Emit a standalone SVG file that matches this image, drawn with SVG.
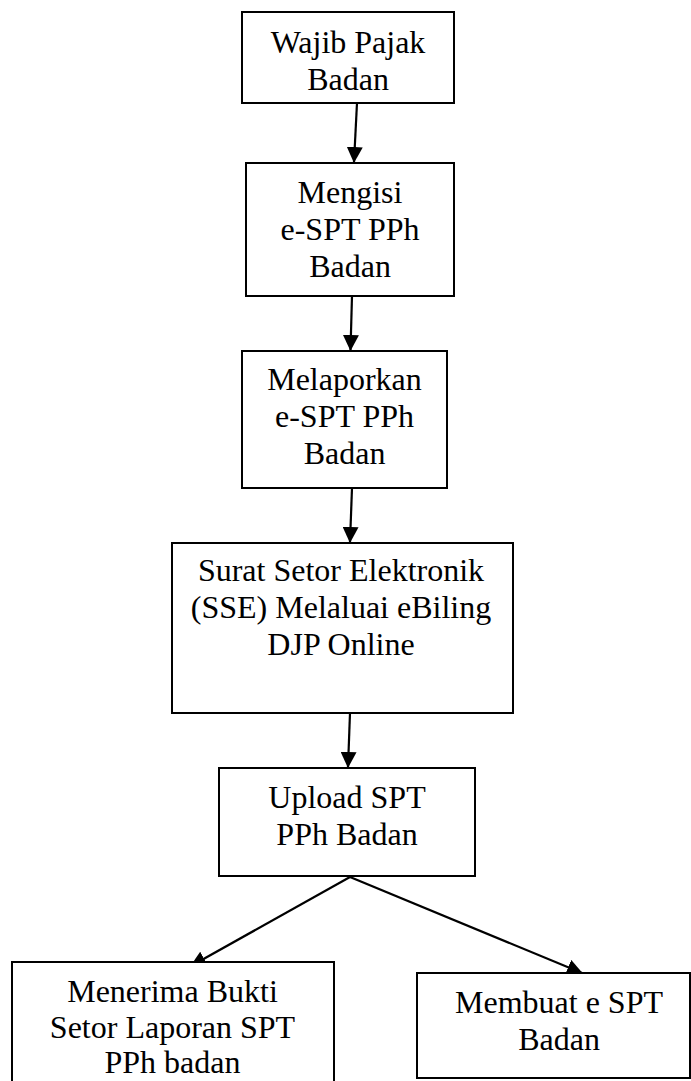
<svg xmlns="http://www.w3.org/2000/svg" width="691" height="1081" viewBox="0 0 691 1081">
<style>
  .box { fill: #ffffff; stroke: #000000; stroke-width: 2; }
  .lbl { font-family: "Liberation Serif", "Times New Roman", serif; font-size: 32px; fill: #000000; text-anchor: middle; }
  .con { fill: none; stroke: #000000; stroke-width: 2.2; }
</style>
<defs>
  <marker id="ah" viewBox="0 0 16 16" refX="15" refY="8" markerWidth="16" markerHeight="16" markerUnits="userSpaceOnUse" orient="auto">
    <path d="M0,0 L16,8 L0,16 z" fill="#000000"/>
  </marker>
</defs>
<rect x="0" y="0" width="691" height="1081" fill="#ffffff"/>
<g id="connectors">
  <path class="con" d="M357,103 L354,162" marker-end="url(#ah)"/>
  <path class="con" d="M352,296 L350.5,350" marker-end="url(#ah)"/>
  <path class="con" d="M352,488 L350,542" marker-end="url(#ah)"/>
  <path class="con" d="M350,713 L348,767" marker-end="url(#ah)"/>
  <path class="con" d="M350,877 L191,966" marker-end="url(#ah)"/>
  <path class="con" d="M350,877 L582,973" marker-end="url(#ah)"/>
</g>
<g id="node1">
  <rect class="box" x="242" y="12" width="212" height="91"/>
  <text class="lbl" x="348" y="53">Wajib Pajak</text>
  <text class="lbl" x="348" y="90">Badan</text>
</g>
<g id="node2">
  <rect class="box" x="246" y="163" width="208" height="133"/>
  <text class="lbl" x="350" y="203">Mengisi</text>
  <text class="lbl" x="350" y="240">e-SPT PPh</text>
  <text class="lbl" x="350" y="277">Badan</text>
</g>
<g id="node3">
  <rect class="box" x="242" y="351" width="205" height="137"/>
  <text class="lbl" x="344.5" y="390">Melaporkan</text>
  <text class="lbl" x="344.5" y="427">e-SPT PPh</text>
  <text class="lbl" x="344.5" y="464">Badan</text>
</g>
<g id="node4">
  <rect class="box" x="172" y="543" width="341" height="170"/>
  <text class="lbl" x="341" y="581">Surat Setor Elektronik</text>
  <text class="lbl" x="341" y="618">(SSE) Melaluai eBiling</text>
  <text class="lbl" x="341" y="655">DJP Online</text>
</g>
<g id="node5">
  <rect class="box" x="219" y="768" width="256" height="108"/>
  <text class="lbl" x="347" y="808">Upload SPT</text>
  <text class="lbl" x="347" y="845">PPh Badan</text>
</g>
<g id="node6">
  <rect class="box" x="12" y="962" width="322" height="140"/>
  <text class="lbl" x="172.5" y="1002">Menerima Bukti</text>
  <text class="lbl" x="172.5" y="1038">Setor Laporan SPT</text>
  <text class="lbl" x="172.5" y="1073">PPh badan</text>
</g>
<g id="node7">
  <rect class="box" x="417" y="973" width="273" height="105"/>
  <text class="lbl" x="559" y="1013">Membuat e SPT</text>
  <text class="lbl" x="559" y="1050">Badan</text>
</g>
</svg>
